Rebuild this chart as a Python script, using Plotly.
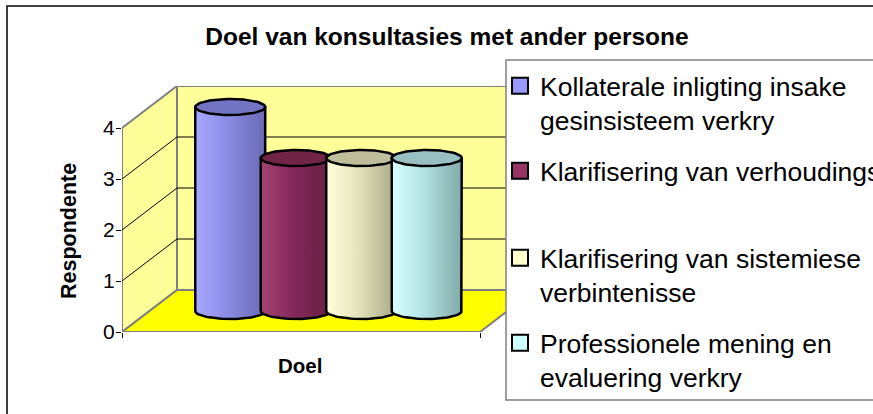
import plotly.graph_objects as go
import numpy as np

# ---------------- data ----------------
chart_title = "Doel van konsultasies met ander persone"
x_title = "Doel"
y_title = "Respondente"
series_names = [
    "Kollaterale inligting insake<br>gesinsisteem verkry",
    "Klarifisering van verhoudings",
    "Klarifisering van sistemiese<br>verbintenisse",
    "Professionele mening en<br>evaluering verkry",
]
values = [4, 3, 3, 3]
y_ticks = [0, 1, 2, 3, 4]

# ---------------- styles ----------------
swatch_colors = ["#9999FF", "#993366", "#FFFFCC", "#CCFFFF"]
body_scales = [
    ["#A8A8FF", "#8C8CE6", "#6A6AB4"],
    ["#A44474", "#84285A", "#662040"],
    ["#FFFFDC", "#E4E4BC", "#A8A888"],
    ["#D8FFFF", "#B4E2E2", "#82AAAA"],
]
top_colors = ["#7474C4", "#702446", "#BEBE9A", "#98C0C0"]

W, H = 873, 414
FONT = "Liberation Sans, Arial, sans-serif"

# geometry in pixels
X_AXIS_PX = 122          # front left edge
Y0_PX = 332              # front floor line (value 0)
PX_PER_UNIT = 51         # vertical pixels per respondent
FLOOR_W = 358            # width of front floor edge
DEPTH_X, DEPTH_Y = 55, 42  # oblique depth offset (px)
PLOT_RIGHT_PX = 540
PLOT_TOP_PX = 86
BAR_STEP = 65.5
BAR_RX = 35
BAR_RY = 8

ymax = (Y0_PX - PLOT_TOP_PX) / PX_PER_UNIT
dyu = DEPTH_Y / PX_PER_UNIT            # depth offset in value units
ryu = BAR_RY / PX_PER_UNIT
top_val = y_ticks[-1]

fig = go.Figure()

# ---------- cylinders ----------
n = len(values)
t_front = np.linspace(np.pi, 2 * np.pi, 41)      # lower (front) half
t_full = np.linspace(0, 2 * np.pi, 81)
for i, (v, name) in enumerate(zip(values, series_names)):
    xc = FLOOR_W / 2 + (i - (n - 1) / 2) * BAR_STEP + DEPTH_X / 2
    yb = dyu / 2
    yt = v + dyu / 2
    bx = [xc - BAR_RX, xc - BAR_RX, xc + BAR_RX, xc + BAR_RX]
    by = [yb, yt, yt, yb]
    arc_x = list(xc + BAR_RX * np.cos(t_front[::-1]))
    arc_y = list(yb + ryu * np.sin(t_front[::-1]))
    fig.add_trace(go.Scatter(
        x=bx + arc_x, y=by + arc_y, mode="lines", fill="toself",
        line=dict(color="black", width=2.5),
        fillgradient=dict(type="horizontal",
                          colorscale=[[0, body_scales[i][0]], [0.45, body_scales[i][1]], [1, body_scales[i][2]]]),
        showlegend=False, hoverinfo="skip"))
    fig.add_trace(go.Scatter(
        x=list(xc + BAR_RX * np.cos(t_full)), y=list(yt + ryu * np.sin(t_full)),
        mode="lines", fill="toself", fillcolor=top_colors[i],
        line=dict(color="black", width=2.5), showlegend=False, hoverinfo="skip"))

# ---------- legend entries ----------
legend_tops_px = [62, 147, 234, 319]
for i, name in enumerate(series_names):
    lg = "legend" if i == 0 else f"legend{i+1}"
    fig.add_trace(go.Scatter(
        x=[None], y=[None], mode="markers", name=name, legend=lg,
        marker=dict(symbol="square", size=16, color=swatch_colors[i],
                    line=dict(color="black", width=2))))

legend_common = dict(x=500 / W, xanchor="left", yanchor="top",
                     bgcolor="rgba(0,0,0,0)", borderwidth=0, valign="top",
                     font=dict(family=FONT, size=26.5, color="black"))
legends = {}
for i in range(n):
    key = "legend" if i == 0 else f"legend{i+1}"
    legends[key] = dict(legend_common, y=(H - legend_tops_px[i]) / H)

# ---------- walls, floor, gridlines ----------
gray = "#808080"
shapes = []
shapes.append(dict(type="rect", xref="x", yref="y", x0=DEPTH_X, x1=DEPTH_X + FLOOR_W,
                   y0=dyu, y1=top_val + dyu, fillcolor="#FFFF99",
                   line=dict(color=gray, width=2), layer="below"))
shapes.append(dict(type="path", xref="x", yref="y",
                   path=f"M0,0 L0,{top_val} L{DEPTH_X},{top_val + dyu} L{DEPTH_X},{dyu} Z",
                   fillcolor="#FFFF99", line=dict(color=gray, width=2), layer="below"))
shapes.append(dict(type="path", xref="x", yref="y",
                   path=f"M0,0 L{FLOOR_W},0 L{FLOOR_W + DEPTH_X},{dyu} L{DEPTH_X},{dyu} Z",
                   fillcolor="#FFFF00", line=dict(color=gray, width=2), layer="below"))
for k in y_ticks[1:-1]:
    shapes.append(dict(type="line", xref="x", yref="y", x0=0, y0=k, x1=DEPTH_X, y1=k + dyu,
                       line=dict(color="black", width=1), layer="below"))
    shapes.append(dict(type="line", xref="x", yref="y", x0=DEPTH_X, y0=k + dyu,
                       x1=DEPTH_X + FLOOR_W, y1=k + dyu,
                       line=dict(color="black", width=1), layer="below"))

# legend frame (white panel, open on the right) and chart border (open right/bottom)
def px(x):
    return x / W

def py(y):
    return (H - y) / H

shapes.append(dict(type="rect", xref="paper", yref="paper", x0=px(506), x1=px(W + 20),
                   y0=py(400), y1=py(60), fillcolor="white",
                   line=dict(width=0), layer="above"))
shapes.append(dict(type="path", xref="paper", yref="paper",
                   path=f"M{px(W + 20)},{py(60)} L{px(506)},{py(60)} L{px(506)},{py(400)} L{px(W + 20)},{py(400)}",
                   line=dict(color=gray, width=1.5), layer="above"))
shapes.append(dict(type="path", xref="paper", yref="paper",
                   path=f"M{px(W + 20)},{py(6)} L{px(7)},{py(6)} L{px(7)},{py(H + 20)}",
                   line=dict(color="black", width=1.5), layer="above"))

annotations = [
    dict(text=y_title, xref="paper", yref="paper", x=px(69), y=py(231),
         xanchor="center", yanchor="middle", textangle=-90, showarrow=False,
         font=dict(family=FONT, size=21.5, color="black", weight="bold")),
    dict(text=x_title, xref="paper", yref="paper", x=px(300), y=py(365),
         xanchor="center", yanchor="middle", showarrow=False,
         font=dict(family=FONT, size=20.5, color="black", weight="bold")),
]

fig.update_layout(
    width=W, height=H,
    margin=dict(l=0, r=0, t=0, b=0, autoexpand=False),
    paper_bgcolor="white", plot_bgcolor="rgba(0,0,0,0)",
    font=dict(family=FONT, color="black"),
    title=dict(text=chart_title, x=447 / W, xanchor="center", y=(H - 36) / H, yanchor="middle",
               font=dict(family=FONT, size=24.5, color="black", weight="bold")),
    xaxis=dict(domain=[X_AXIS_PX / W, PLOT_RIGHT_PX / W], range=[0, PLOT_RIGHT_PX - X_AXIS_PX],
               showgrid=False, zeroline=False, showline=False, automargin=False,
               tickmode="array", tickvals=[0, FLOOR_W], ticktext=["", ""],
               ticks="outside", ticklen=5, tickcolor="black", tickwidth=1),
    yaxis=dict(domain=[(H - Y0_PX) / H, (H - PLOT_TOP_PX) / H], range=[0, ymax],
               showgrid=False, zeroline=False, showline=False, automargin=False,
               tickmode="array", tickvals=y_ticks, ticks="outside", ticklen=5,
               tickcolor="black", tickwidth=1, ticklabelstandoff=-3,
               tickfont=dict(family=FONT, size=21, color="black")),
    shapes=shapes,
    annotations=annotations,
    showlegend=True,
    **legends,
)

fig.write_html("out.html", config={"displayModeBar": False},
               post_script="document.body.style.margin='0';document.body.style.overflow='hidden';")
